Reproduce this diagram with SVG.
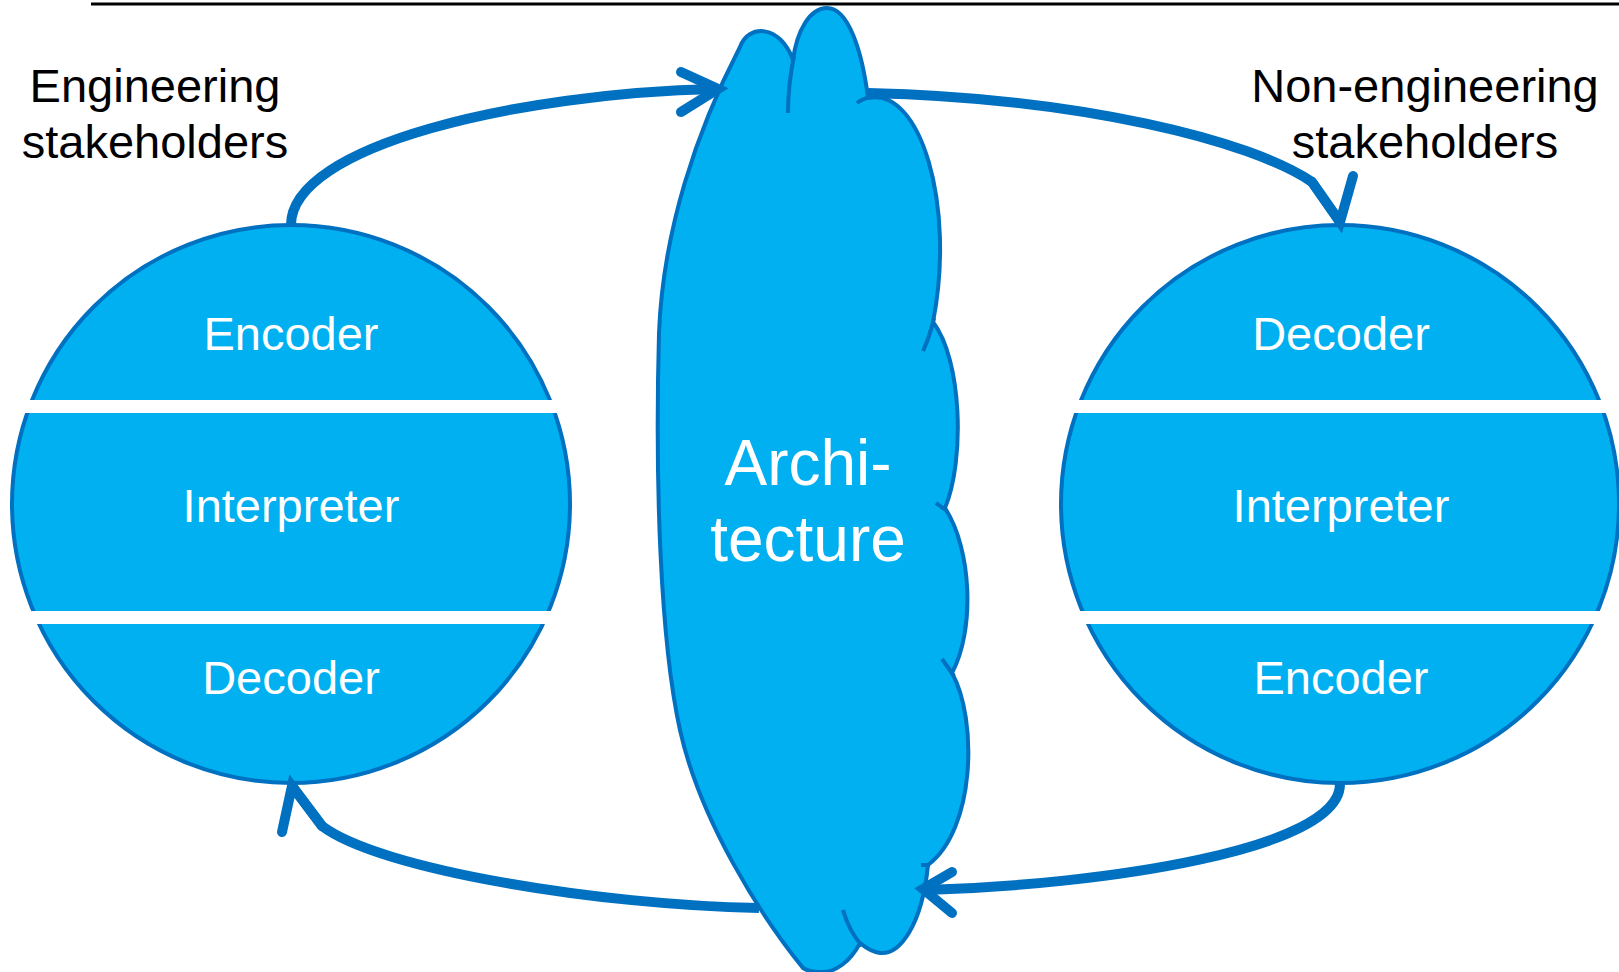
<svg xmlns="http://www.w3.org/2000/svg" width="1619" height="972" viewBox="0 0 1619 972">
  <style>
    .disc { fill: #00B0F0; stroke: #0070C0; stroke-width: 4; }
    .band { fill: #FFFFFF; }
    .inner { font-family: "Liberation Sans", Arial, sans-serif; font-size: 47px; fill: #FFFFFF; text-anchor: middle; }
    .label { font-family: "Liberation Sans", Arial, sans-serif; font-size: 47px; fill: #000000; text-anchor: middle; }
    .cloud { fill: #00B0F0; stroke: #0070C0; stroke-width: 4; stroke-linejoin: round; }
    .cloud-seam { fill: none; stroke: #0070C0; stroke-width: 4; }
    .big { font-family: "Liberation Sans", Arial, sans-serif; font-size: 64px; fill: #FFFFFF; text-anchor: middle; }
    .flow { fill: none; stroke: #0070C0; stroke-width: 10; stroke-linejoin: miter; }
    .head { fill: none; stroke: #0070C0; stroke-width: 10; stroke-linecap: round; stroke-linejoin: miter; }
  </style>
  <defs>
    <clipPath id="clip-left"><circle cx="291" cy="504" r="282"/></clipPath>
    <clipPath id="clip-right"><circle cx="1340" cy="504" r="282"/></clipPath>
  </defs>

  <rect x="0" y="0" width="1619" height="972" fill="#FFFFFF"/>

  <!-- header rule -->
  <line x1="91" y1="4" x2="1619" y2="4" stroke="#000000" stroke-width="3"/>

  <!-- side captions -->
  <g id="caption-engineering">
    <text class="label" x="155" y="102">Engineering</text>
    <text class="label" x="155" y="158">stakeholders</text>
  </g>
  <g id="caption-non-engineering">
    <text class="label" x="1425" y="102">Non-engineering</text>
    <text class="label" x="1425" y="158">stakeholders</text>
  </g>

  <!-- engineering stakeholder: encoder / interpreter / decoder -->
  <g id="engineering-stakeholder">
    <circle class="disc" cx="291" cy="504" r="279"/>
    <g clip-path="url(#clip-left)">
      <rect class="band" x="0" y="400" width="600" height="13"/>
      <rect class="band" x="0" y="611" width="600" height="13"/>
    </g>
    <text class="inner" x="291" y="350">Encoder</text>
    <text class="inner" x="291" y="522">Interpreter</text>
    <text class="inner" x="291" y="694">Decoder</text>
  </g>

  <!-- non-engineering stakeholder: decoder / interpreter / encoder -->
  <g id="non-engineering-stakeholder">
    <circle class="disc" cx="1340" cy="504" r="279"/>
    <g clip-path="url(#clip-right)">
      <rect class="band" x="1040" y="400" width="600" height="13"/>
      <rect class="band" x="1040" y="611" width="600" height="13"/>
    </g>
    <text class="inner" x="1341" y="350">Decoder</text>
    <text class="inner" x="1341" y="522">Interpreter</text>
    <text class="inner" x="1341" y="694">Encoder</text>
  </g>

  <!-- architecture cloud -->
  <g id="architecture">
    <path class="cloud" d="M 740,47
      C 748,24 780,24 793,60
      C 797,30 810,8 827,8
      C 848,8 862,50 868,98
      C 920,86 956,205 933,322
      C 962,360 965,460 945,508
      C 972,550 975,630 952,673
      C 978,720 975,830 928,865
      C 922,925 900,955 880,953
      C 872,952 866,948 860,943
      C 850,962 835,973 820,972
      C 812,972 806,970 803,968
      C 760,915 700,820 680,730
      C 660,640 655,480 659,333
      C 663,230 697,130 740,47 Z"/>
    <path class="cloud-seam" d="M 794,56 Q 788,85 788,113"/>
    <path class="cloud-seam" d="M 857,103 Q 862,99 870,97"/>
    <path class="cloud-seam" d="M 934,318 Q 930,336 923,351"/>
    <path class="cloud-seam" d="M 947,511 L 936,503"/>
    <path class="cloud-seam" d="M 954,676 L 942,659"/>
    <path class="cloud-seam" d="M 930,865 L 921,865"/>
    <path class="cloud-seam" d="M 862,946 Q 849,931 843,910"/>
    <text class="big" x="808" y="485">Archi-</text>
    <text class="big" x="808" y="561">tecture</text>
  </g>

  <!-- communication loop -->
  <g id="connectors">
    <path class="flow" d="M 291,225 C 291,145 520,93 716,89"/>
    <polyline class="head" points="681,72 718,89 681,112"/>

    <path class="flow" d="M 868,93 C 1080,98 1250,140 1312,182 L 1340,222"/>
    <polyline class="head" points="1312,182 1340,222 1353,176"/>

    <path class="flow" d="M 1340,784 C 1340,850 1100,885 926,890"/>
    <polyline class="head" points="952,872 923,889 952,913"/>

    <path class="flow" d="M 759,908 C 600,905 380,870 322,826 L 292,786"/>
    <polyline class="head" points="322,826 292,786 282,832"/>
  </g>
</svg>
